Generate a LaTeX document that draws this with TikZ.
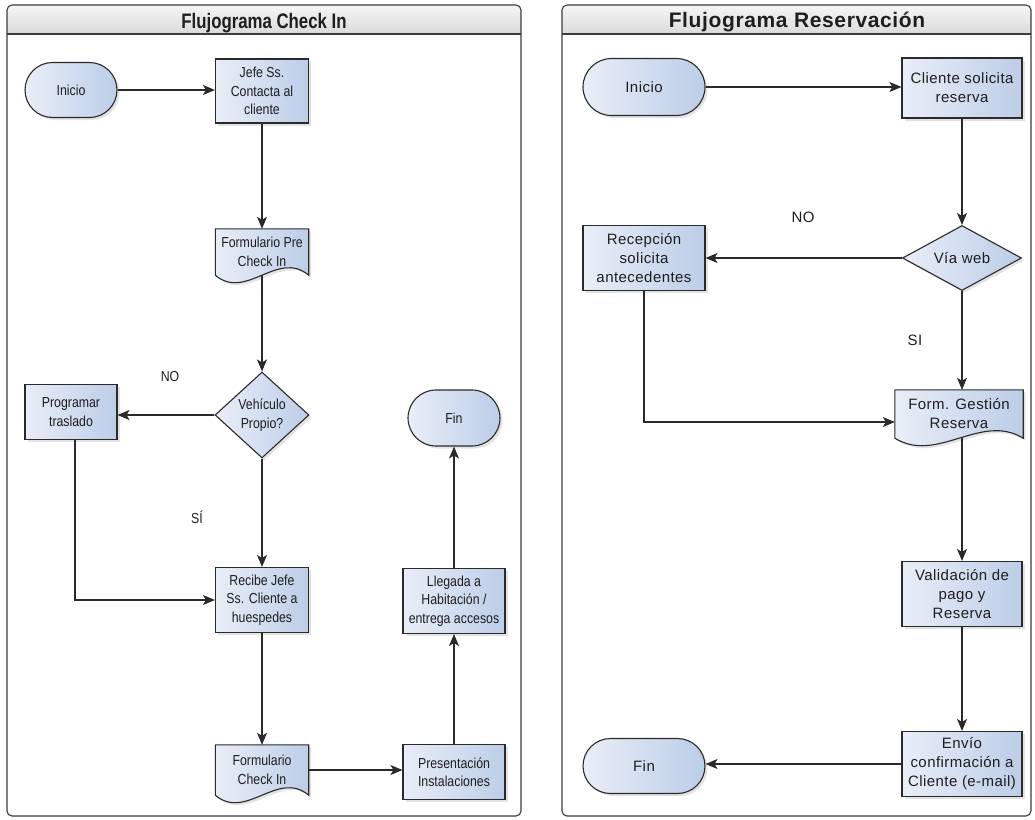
\documentclass[tikz,border=0pt]{standalone}
\usepackage{fontspec}
\setmainfont{Liberation Sans}
\newfontfamily\narrowfont[FakeStretch=0.85]{Liberation Sans}
\newfontfamily\narrowtitlefont[FakeStretch=0.8]{Liberation Sans}
\newfontfamily\spacedfont[LetterSpace=3]{Liberation Sans}
\usetikzlibrary{shapes.geometric,arrows.meta,shadows,calc,backgrounds}

\definecolor{nodeL}{HTML}{E9EEF7}
\definecolor{nodeR}{HTML}{BCCDE8}
\definecolor{edgecol}{HTML}{2A2A2A}
\definecolor{barT}{HTML}{F6F6F6}
\definecolor{barB}{HTML}{DADADA}
\definecolor{frame}{HTML}{3C3C3C}
\definecolor{ink}{HTML}{1E1E1E}

\newcommand\lbody{\narrowfont\fontsize{14.5}{18.5}\selectfont}
\newcommand\rbody{\spacedfont\fontsize{15}{19}\selectfont}

\tikzset{
  x=1pt, y=-1pt,
  soft/.style={drop shadow={shadow xshift=2.5pt, shadow yshift=-2.5pt, opacity=0.22}},
  base/.style={draw=edgecol, line width=1.1pt, left color=nodeL, right color=nodeR,
    soft, text=ink, align=center, inner sep=2pt},
  procbox/.style={base, rectangle},
  termbox/.style={base, rectangle, rounded corners=#1},
  decision/.style={base, diamond, inner sep=0pt},
  doctext/.style={rectangle, inner sep=0pt, align=center, text=ink},
  docbody/.style={draw=edgecol, line width=1.1pt, left color=nodeL, right color=nodeR, soft},
  flow/.style={draw=edgecol, line width=1.1pt, -{Stealth[length=12pt,width=10pt,inset=3pt]}},
  panel/.style={draw=frame, line width=1.1pt, rounded corners=5pt},
  lbl/.style={text=ink, inner sep=0pt},
}

% document symbol drawn behind a text node: straight top and sides, wavy bottom
\newcommand\docoutline[1]{%
  \path[docbody] (#1.north west) -- (#1.north east) -- (#1.south east)
    .. controls ($(#1.south east)!0.33!(#1.south west)+(0,-26)$)
           and ($(#1.south east)!0.67!(#1.south west)+(0,26)$) .. (#1.south west) -- cycle;}

\begin{document}
\begin{tikzpicture}
\useasboundingbox (0,0) rectangle (1035,819);

% ---------------- panels ----------------
\shade[top color=barT, bottom color=barB]
  (7,34) [rounded corners=5pt]-- (7,5) -- (521,5) [sharp corners]-- (521,34) -- cycle;
\draw[panel] (7,5) rectangle (521,816);
\draw[draw=frame, line width=1.1pt] (7,34) -- (521,34);
\node[lbl, font=\narrowtitlefont\bfseries\fontsize{21}{24}\selectfont] (titleA) at (264,23) {Flujograma Check In};

\shade[top color=barT, bottom color=barB]
  (562,34) [rounded corners=5pt]-- (562,5) -- (1031,5) [sharp corners]-- (1031,34) -- cycle;
\draw[panel] (562,5) rectangle (1031,816);
\draw[draw=frame, line width=1.1pt] (562,34) -- (1031,34);
\node[lbl, font=\spacedfont\bfseries\fontsize{21}{24}\selectfont] (titleB) at (797,22) {Flujograma Reservación};

% ---------------- Check In ----------------
\begin{scope}[font=\lbody]
\node[termbox=27.5pt, minimum width=92pt, minimum height=55pt] (inicioA) at (71,90) {Inicio};
\node[procbox, minimum width=93pt, minimum height=64pt] (jefe) at (262,91) {Jefe Ss.\\Contacta al\\cliente};
\node[doctext, minimum width=93pt, minimum height=46pt] (fpre) at (262,252) {Formulario Pre\\Check In};
\node[decision, aspect=1.1, minimum width=94pt, minimum height=86pt] (veh) at (262,415) {Vehículo\\Propio?};
\node[procbox, minimum width=92pt, minimum height=55pt] (prog) at (71,412) {Programar\\traslado};
\node[procbox, minimum width=93pt, minimum height=65pt] (recibe) at (262,600) {Recibe Jefe\\Ss. Cliente a\\huespedes};
\node[doctext, minimum width=93pt, minimum height=50pt] (fci) at (262,770) {Formulario\\Check In};
\node[procbox, minimum width=102pt, minimum height=55pt] (pres) at (454,772) {Presentación\\Instalaciones};
\node[procbox, minimum width=102pt, minimum height=65pt] (lleg) at (454,601) {Llegada a\\Habitación /\\entrega accesos};
\node[termbox=28pt, minimum width=92pt, minimum height=56pt] (finA) at (454,418) {Fin};
\node[lbl] (noA) at (170,377) {NO};
\node[lbl] (siA) at (197,517) {SÍ};
\end{scope}

% ---------------- Reservación ----------------
\begin{scope}[font=\rbody]
\node[termbox=28.5pt, minimum width=122pt, minimum height=57pt] (inicioB) at (644,87) {Inicio};
\node[procbox, minimum width=120pt, minimum height=60pt] (cli) at (962,88) {Cliente solicita\\reserva};
\node[decision, aspect=1.8, minimum width=119pt, minimum height=65pt] (via) at (962,258) {Vía web};
\node[procbox, minimum width=122pt, minimum height=65pt] (recep) at (644,258) {Recepción\\solicita\\antecedentes};
\node[doctext, minimum width=128pt, minimum height=48pt] (fg) at (959,414) {Form. Gestión\\Reserva};
\node[procbox, minimum width=120pt, minimum height=65pt] (val) at (962,594) {Validación de\\pago y\\Reserva};
\node[procbox, minimum width=120pt, minimum height=65pt] (env) at (962,764) {Envío\\confirmación a\\Cliente (e-mail)};
\node[termbox=27.5pt, minimum width=122pt, minimum height=55pt] (finB) at (644,766) {Fin};
\node[lbl] (noB) at (803,217) {NO};
\node[lbl] (siB) at (915,340) {SI};
\end{scope}

% document symbols behind their texts
\begin{scope}[on background layer]
\docoutline{fpre}
\docoutline{fci}
\docoutline{fg}
\end{scope}

% ---------------- connectors: Check In ----------------
\draw[flow] (inicioA.east) -- (inicioA.east -| jefe.west);
\draw[flow] (jefe) -- (fpre);
\draw[flow] (fpre) -- (veh);
\draw[flow] (veh.west) -- (veh.west -| prog.east);
\draw[flow] (veh) -- (recibe);
\draw[flow] ([xshift=4pt]prog.south) |- (recibe.west);
\draw[flow] (recibe) -- (fci);
\draw[flow] (fci.east) -- (fci.east -| pres.west);
\draw[flow] (pres) -- (lleg);
\draw[flow] (lleg) -- (finA);

% ---------------- connectors: Reservación ----------------
\draw[flow] (inicioB.east) -- (inicioB.east -| cli.west);
\draw[flow] (cli) -- (via);
\draw[flow] (via) -- (recep);
\draw[flow] (via.south) -- (via.south |- fg.north);
\draw[flow] (recep.south) |- ([yshift=-8pt]fg.west);
\draw[flow] (val.north |- fg.south) -- (val.north);
\draw[flow] (val) -- (env);
\draw[flow] (env.west) -- (env.west -| finB.east);
\end{tikzpicture}
\end{document}
